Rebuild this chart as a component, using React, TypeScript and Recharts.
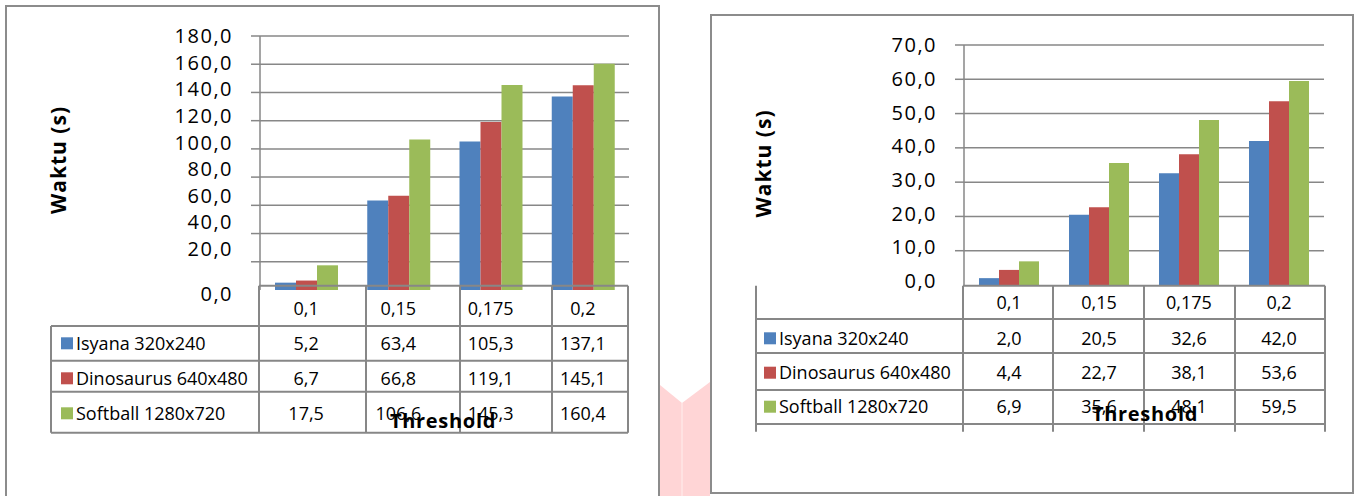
import React from 'react';
import { BarChart, Bar, XAxis, YAxis, CartesianGrid } from 'recharts';

const thresholds = ['0,1', '0,15', '0,175', '0,2'];
const seriesNames = ['Isyana 320x240', 'Dinosaurus 640x480', 'Softball 1280x720'];
const seriesKeys = ['isyana', 'dino', 'soft'];
const seriesColors = ['#4F81BD', '#C0504D', '#9BBB59'];

// left chart (waktu, skala 0-180)
const isyanaA = [5.2, 63.4, 105.3, 137.1];
const dinoA = [6.7, 66.8, 119.1, 145.1];
const softA = [17.5, 106.6, 145.3, 160.4];
const ticksA = [0, 20, 40, 60, 80, 100, 120, 140, 160, 180];

// right chart (waktu, skala 0-70)
const isyanaB = [2.0, 20.5, 32.6, 42.0];
const dinoB = [4.4, 22.7, 38.1, 53.6];
const softB = [6.9, 35.6, 48.1, 59.5];
const ticksB = [0, 10, 20, 30, 40, 50, 60, 70];

const FONT = "'Open Sans', sans-serif";
const GRID = '#878787';

const fmt = (v: number) => v.toFixed(1).replace('.', ',');

const buildRows = (a: number[], b: number[], c: number[]) =>
  thresholds.map((t, i) => ({ t, isyana: a[i], dino: b[i], soft: c[i] }));

// y tick with its own stub (no stub at 0) and slightly squeezed label placement like the source
const makeYTick = (top: number, squeeze: number, zeroShift: number, gap: number) => (props: any) => {
  const { x, y, payload } = props;
  const v = payload.value as number;
  const ly = v === 0 ? y + zeroShift : top + (y - top) * squeeze;
  return (
    <g>
      {v !== 0 && <line x1={x + gap} x2={x + gap + 9} y1={y} y2={y} stroke={GRID} strokeWidth={1.5} />}
      <text x={x} y={ly} dy="0.36em" textAnchor="end" fontSize={20} letterSpacing={1.5} fill="#000" fontFamily={FONT}>
        {fmt(v)}
      </text>
    </g>
  );
};

const headerTick = (props: any) => (
  <text x={props.x} y={props.y} dy="0.36em" textAnchor="middle" fontSize={18} fill="#000" fontFamily={FONT}>
    {props.payload.value}
  </text>
);

interface PanelProps {
  left: number;
  width: number;
  yWidth: number;
  top: number;
  bottom: number;
  right: number;
  domainMax: number;
  ticks: number[];
  squeeze: number;
  zeroShift: number;
  headerGap: number;
  data: { t: string; isyana: number; dino: number; soft: number }[];
}

const Panel = ({ left, width, yWidth, top, bottom, right, domainMax, ticks, squeeze, zeroShift, headerGap, data }: PanelProps) => (
  <div style={{ position: 'absolute', left, top: 0 }}>
    <BarChart
      width={width}
      height={bottom + 40}
      data={data}
      margin={{ top, right, bottom: 0, left: 0 }}
      barGap={0}
      barCategoryGap={15}
    >
      <CartesianGrid
        vertical={false}
        stroke={GRID}
        strokeWidth={1.5}
        horizontalValues={ticks.filter((t) => t !== 0)}
      />
      <XAxis
        dataKey="t"
        height={40}
        axisLine={false}
        tickLine={false}
        tickSize={0}
        tickMargin={headerGap}
        interval={0}
        tick={headerTick}
      />
      <YAxis
        width={yWidth}
        domain={[0, domainMax]}
        ticks={ticks}
        interval={0}
        axisLine={{ stroke: GRID, strokeWidth: 1.5 }}
        tickLine={false}
        tickSize={9}
        tickMargin={18}
        tick={makeYTick(top, squeeze, zeroShift, 18)}
      />
      {seriesKeys.map((k, i) => (
        <Bar key={k} dataKey={k} name={seriesNames[i]} fill={seriesColors[i]} isAnimationActive={false} />
      ))}
    </BarChart>
  </div>
);

interface TableProps {
  cols: number[];
  rows: number[];
  stub: number;
  centers: number[];
  rowMid: number[];
  values: number[][];
  keyX: number;
}

const DataTable = ({ cols, rows, stub, centers, rowMid, values, keyX }: TableProps) => {
  const l = cols[0];
  const r = cols[cols.length - 1];
  const bottom = rows[rows.length - 1];
  return (
    <g>
      <line x1={cols[1]} x2={r} y1={rows[0]} y2={rows[0]} stroke={GRID} strokeWidth={2} />
      {rows.slice(1).map((y, i) => (
        <line key={'h' + i} x1={l} x2={r} y1={y} y2={y} stroke={GRID} strokeWidth={2} />
      ))}
      <line x1={l} x2={l} y1={stub > 0 ? rows[0] : rows[1]} y2={bottom + stub} stroke={GRID} strokeWidth={2} />
      {cols.slice(1).map((x, i) => (
        <line key={'v' + i} x1={x} x2={x} y1={rows[0]} y2={bottom + stub} stroke={GRID} strokeWidth={2} />
      ))}
      {values.map((vals, s) => (
        <g key={'r' + s}>
          <rect x={keyX} y={rowMid[s] - 6} width={12} height={12} fill={seriesColors[s]} />
          <text x={keyX + 15} y={rowMid[s]} dy="0.36em" fontSize={18} fill="#000" fontFamily={FONT}>
            {seriesNames[s]}
          </text>
          {vals.map((v, i) => (
            <text key={i} x={centers[i]} y={rowMid[s]} dy="0.36em" textAnchor="middle" fontSize={18} fill="#000" fontFamily={FONT}>
              {fmt(v)}
            </text>
          ))}
        </g>
      ))}
    </g>
  );
};

const bandCenters = (plotLeft: number, plotWidth: number) =>
  thresholds.map((_, i) => plotLeft + (plotWidth / thresholds.length) * (i + 0.5));

export default function App() {
  const centersA = bandCenters(260, 369);
  const centersB = bandCenters(964, 360);
  return (
    <div
      style={{
        position: 'absolute',
        left: 0,
        top: 0,
        width: 1356,
        height: 496,
        overflow: 'hidden',
        background: '#fff',
        fontFamily: FONT,
      }}
    >
      <svg width={1356} height={496} style={{ position: 'absolute', left: 0, top: 0 }}>
        <polygon points="660,385 682,403 710,382 710,496 660,496" fill="#FFD5D6" />
        <line x1={682} x2={682} y1={403} y2={496} stroke="#FFE6E6" strokeWidth={1.5} />
      </svg>
      <div style={{ position: 'absolute', left: 5, top: 5, width: 655, height: 520, border: '2px solid #8c8c8c', boxSizing: 'border-box' }} />
      <div style={{ position: 'absolute', left: 710, top: 14, width: 644, height: 480, border: '2px solid #8c8c8c', boxSizing: 'border-box' }} />

      <Panel
        left={0}
        width={680}
        yWidth={260}
        top={36}
        bottom={290}
        right={51}
        domainMax={180}
        ticks={ticksA}
        squeeze={0.9426}
        zeroShift={4}
        headerGap={19}
        data={buildRows(isyanaA, dinoA, softA)}
      />
      <Panel
        left={680}
        width={676}
        yWidth={284}
        top={45}
        bottom={285}
        right={32}
        domainMax={70}
        ticks={ticksB}
        squeeze={0.983}
        zeroShift={-4}
        headerGap={18}
        data={buildRows(isyanaB, dinoB, softB)}
      />

      <svg width={1356} height={496} style={{ position: 'absolute', left: 0, top: 0, pointerEvents: 'none' }}>
        <DataTable
          cols={[51, 259, 366, 460, 552, 628]}
          rows={[285.7, 326, 360.7, 391.7, 432.7]}
          stub={0}
          centers={centersA}
          rowMid={[343.3, 378.3, 413.3]}
          values={[isyanaA, dinoA, softA]}
          keyX={61}
        />
        <DataTable
          cols={[756, 963, 1053, 1144, 1235, 1325]}
          rows={[285.7, 319, 353, 390, 424]}
          stub={7.7}
          centers={centersB}
          rowMid={[338.3, 372.7, 406.7]}
          values={[isyanaB, dinoB, softB]}
          keyX={764}
        />
        <text x={58} y={160} dy="0.36em" textAnchor="middle" transform="rotate(-90 58 160)" fontSize={21} fontWeight={700} letterSpacing={1} fontFamily={FONT}>
          Waktu (s)
        </text>
        <text x={763} y={163.5} dy="0.36em" textAnchor="middle" transform="rotate(-90 763 163.5)" fontSize={21} fontWeight={700} letterSpacing={1} fontFamily={FONT}>
          Waktu (s)
        </text>
        <text x={443} y={421} dy="0.36em" textAnchor="middle" fontSize={20} fontWeight={700} letterSpacing={0.7} fontFamily={FONT}>
          Threshold
        </text>
        <text x={1145} y={414} dy="0.36em" textAnchor="middle" fontSize={20} fontWeight={700} letterSpacing={0.7} fontFamily={FONT}>
          Threshold
        </text>
      </svg>
    </div>
  );
}
